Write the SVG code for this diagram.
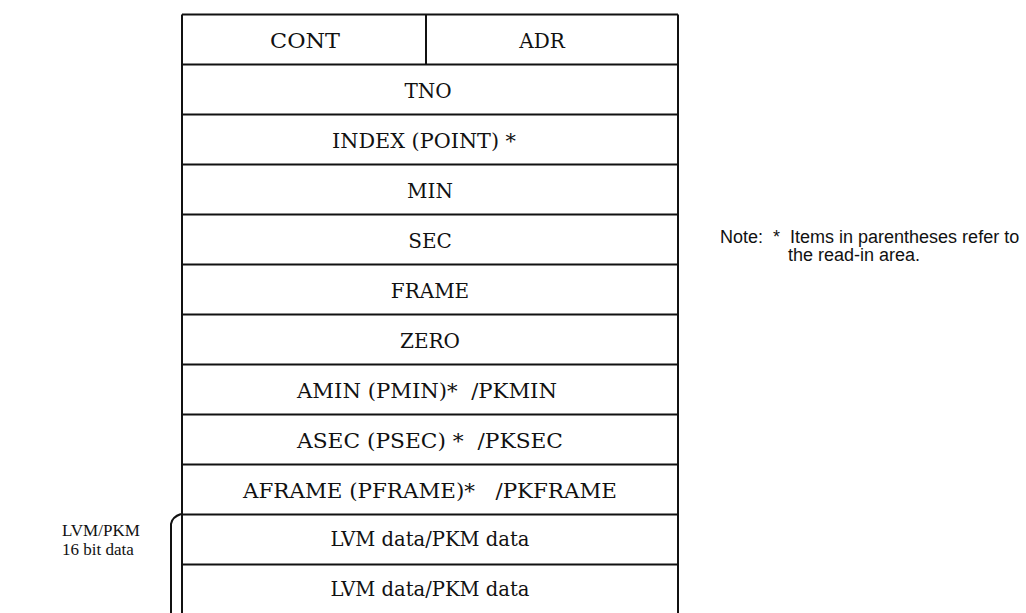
<svg xmlns="http://www.w3.org/2000/svg" width="1026" height="613" viewBox="0 0 1026 613">
<style>
.ln{stroke:#111;stroke-width:2;fill:none}
.t{font-family:"DejaVu Serif","Liberation Serif",serif;font-size:20px;fill:#111;text-anchor:middle;white-space:pre}
.lbl{font-family:"Liberation Serif",serif;font-size:17px;fill:#111}
.note{font-family:"Liberation Sans",Arial,sans-serif;font-size:18px;fill:#111;white-space:pre}
</style>
<rect width="1026" height="613" fill="#fff"/>
<g id="connectors">
<path class="ln" d="M181,514 Q172,517 171,524 L171,613"/>
</g>
<g id="table">
<path class="ln" d="M182,14.5 H678 M182,14.5 V613 M678,14.5 V613 M426,14.5 V64.5"/>
<path class="ln" d="M182,64.5 H678 M182,114.5 H678 M182,164.5 H678 M182,214.5 H678 M182,264.5 H678 M182,314.5 H678 M182,364.5 H678 M182,414.5 H678 M182,464.5 H678 M182,514.5 H678 M182,564.5 H678"/>
</g>
<g id="row-cont"><text class="t" x="305" y="48" textLength="70" lengthAdjust="spacingAndGlyphs">CONT</text></g>
<g id="row-adr"><text class="t" x="542" y="48">ADR</text></g>
<g id="row-tno"><text class="t" x="428" y="98">TNO</text></g>
<g id="row-index"><text class="t" x="424" y="148" textLength="184" lengthAdjust="spacingAndGlyphs">INDEX (POINT) *</text></g>
<g id="row-min"><text class="t" x="430" y="198">MIN</text></g>
<g id="row-sec"><text class="t" x="430" y="248">SEC</text></g>
<g id="row-frame"><text class="t" x="430" y="298">FRAME</text></g>
<g id="row-zero"><text class="t" x="430" y="348">ZERO</text></g>
<g id="row-amin"><text class="t" x="427" y="398" textLength="260" lengthAdjust="spacingAndGlyphs">AMIN (PMIN)*  /PKMIN</text></g>
<g id="row-asec"><text class="t" x="430" y="448" textLength="266" lengthAdjust="spacingAndGlyphs">ASEC (PSEC) *  /PKSEC</text></g>
<g id="row-aframe"><text class="t" x="430" y="498" textLength="374" lengthAdjust="spacingAndGlyphs">AFRAME (PFRAME)*   /PKFRAME</text></g>
<g id="row-lvm1"><text class="t" x="430" y="546" font-size="18" textLength="199" lengthAdjust="spacingAndGlyphs">LVM data/PKM data</text></g>
<g id="row-lvm2"><text class="t" x="430" y="596" font-size="18" textLength="199" lengthAdjust="spacingAndGlyphs">LVM data/PKM data</text></g>
<g id="label-lvm">
<text class="lbl" x="62" y="536">LVM/PKM</text>
<text class="lbl" x="62" y="555">16 bit data</text>
</g>
<g id="note">
<text class="note" x="720" y="243">Note:  *  Items in parentheses refer to</text>
<text class="note" x="788" y="261">the read-in area.</text>
</g>
</svg>
